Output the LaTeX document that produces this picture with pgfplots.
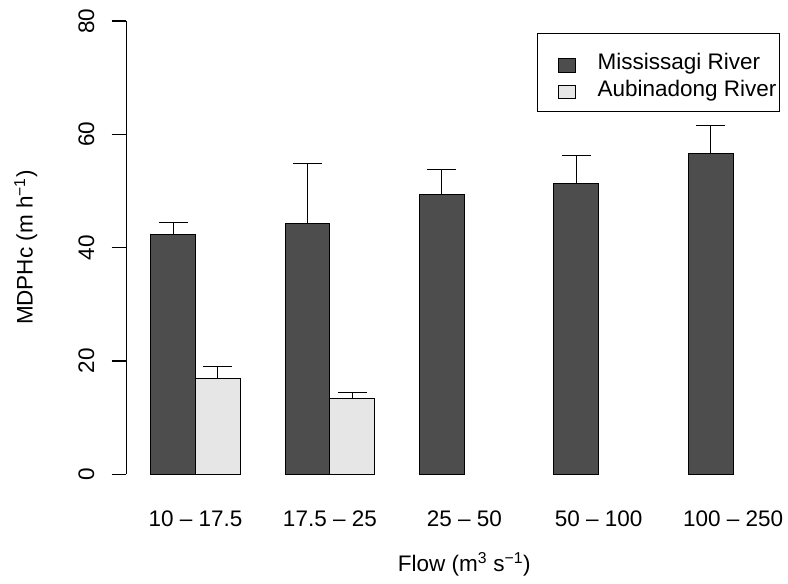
\documentclass[border=0pt]{standalone}
\usepackage{fontspec}
\setmainfont{Liberation Sans}
\usepackage{pgfplots}
\pgfplotsset{compat=1.18}
\definecolor{darkbar}{HTML}{4D4D4D}
\definecolor{lightbar}{HTML}{E6E6E6}
\pgfplotsset{mylegend/.style={legend image code/.code={\path (0pt,0pt); \draw[##1,draw=black,line width=1pt] (17.7pt,-12.8pt) rectangle (34.7pt,0.7pt);}}}
\begin{document}
\fontsize{22.5pt}{27pt}\selectfont
\begin{tikzpicture}[x=1pt,y=1pt]
\path[use as bounding box] (0,0) rectangle (788,584);
\begin{axis}[
  at={(126.5pt,109.7pt)}, anchor=south west,
  scale only axis, width=660.4pt, height=453.3pt,
  xmin=0.46, xmax=15.2, ymin=0, ymax=80,
  axis lines*=left,
  x axis line style={draw=none},
  y axis line style={line width=1.1pt},
  xtick={2,5,8,11,14},
  xticklabels={10 – 17.5, 17.5 – 25, 25 – 50, 50 – 100, 100 – 250},
  xtick style={draw=none},
  ytick={0,20,40,60,80},
  tick align=outside,
  major tick length=15pt,
  ytick style={black, line width=1.1pt},
  /pgf/number format/assume math mode=true,
  yticklabel style={rotate=90, anchor=south, inner sep=0pt, yshift=17pt},
  xticklabel style={anchor=north, inner sep=0pt, yshift=-21pt},
  ylabel={MDPHc (m h\textsuperscript{\char"2212 1})},
  ylabel style={at={(axis description cs:-0.142,0.5)}, anchor=base, rotate=0},
  xlabel={Flow (m\textsuperscript{3} s\textsuperscript{\char"2212 1})},
  xlabel style={at={(axis description cs:0.5115,-0.214)}, anchor=base},
  legend cell align=left,
  legend style={at={(axis description cs:0.9895,0.973)}, anchor=north east,
    draw=black, line width=1.1pt, inner xsep=3pt, inner ysep=9.9pt,
    row sep=-4.5pt, column sep=21.7pt,
    nodes={inner sep=0pt, text height=26.2pt, text depth=5pt}},
]
\addplot[ybar, bar width=1, bar shift=0pt, fill=darkbar, draw=black, line width=1pt, mylegend,
  error bars/.cd, y dir=plus, y explicit, error mark=-,
  error bar style={line width=1.1pt, black},
  error mark options={rotate=90, mark size=14.5pt, line width=1.1pt, black}]
  table[x=x, y=y, y error=e] {
x y e
1.5 42.3 2.2
4.5 44.2 10.7
7.5 49.3 4.5
10.5 51.4 4.8
13.5 56.7 4.9
};
\addlegendentry{Mississagi River}
\addplot[ybar, bar width=1, bar shift=0pt, fill=lightbar, draw=black, line width=1pt, mylegend,
  error bars/.cd, y dir=plus, y explicit, error mark=-,
  error bar style={line width=1.1pt, black},
  error mark options={rotate=90, mark size=14.5pt, line width=1.1pt, black}]
  table[x=x, y=y, y error=e] {
x y e
2.5 16.9 2.2
5.5 13.4 1.1
};
\addlegendentry{Aubinadong River}
\end{axis}
\end{tikzpicture}
\end{document}
